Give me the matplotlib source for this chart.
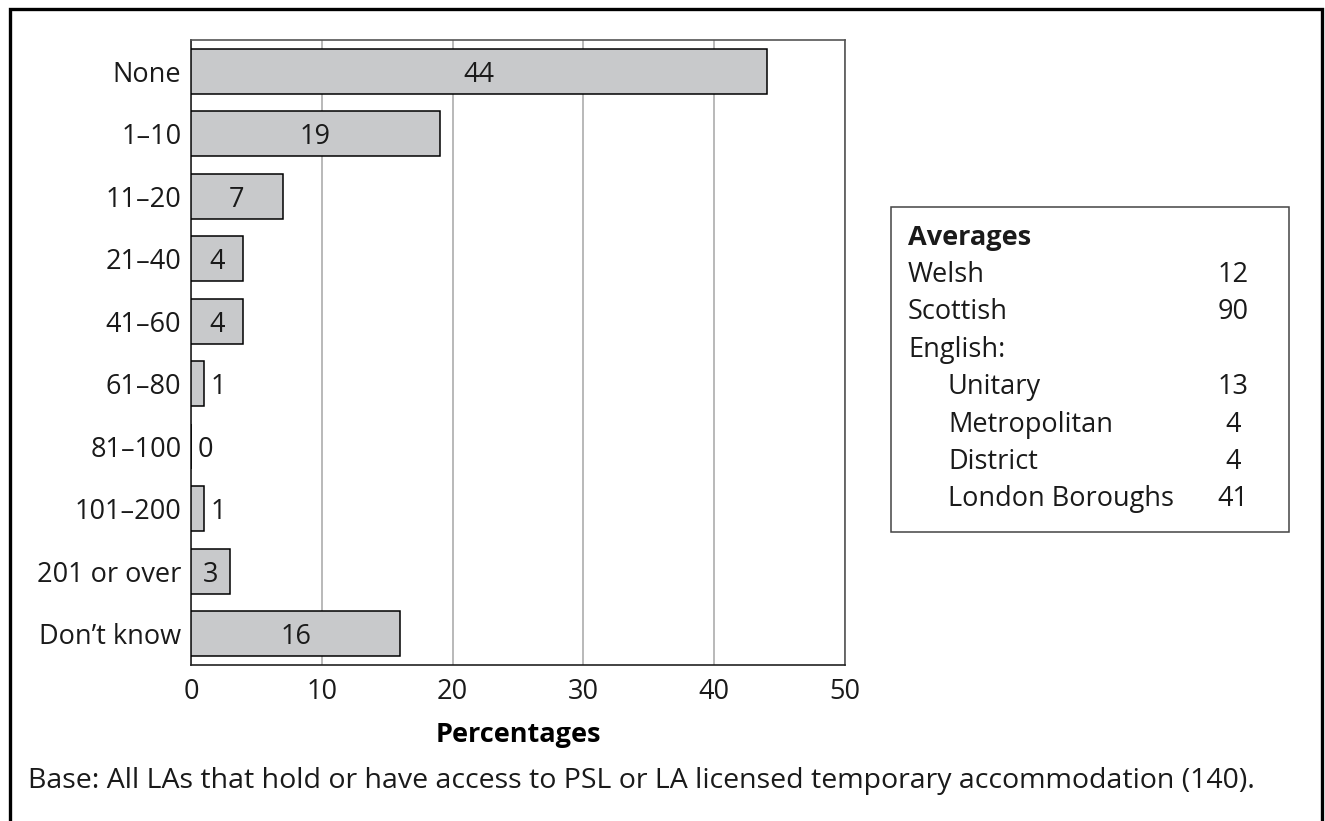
import matplotlib
matplotlib.use("Agg")
import matplotlib.pyplot as plt
from matplotlib.patches import Rectangle

plt.rcParams['font.family'] = ['Open Sans', 'DejaVu Sans']

categories = ["None", "1\u201310", "11\u201320", "21\u201340", "41\u201360", "61\u201380",
              "81\u2013100", "101\u2013200", "201 or over", "Don\u2019t know"]
values = [44, 19, 7, 4, 4, 1, 0, 1, 3, 16]
x_ticks = [0, 10, 20, 30, 40, 50]

avg_labels = ["Welsh", "Scottish", "English:", "Unitary", "Metropolitan", "District", "London Boroughs"]
avg_values = ["12", "90", "", "13", "4", "4", "41"]
avg_indent = [False, False, False, True, True, True, True]

FS = 19.5
W, H = 1325, 821
fig = plt.figure(figsize=(W / 100, H / 100), dpi=100)
fig.patch.set_facecolor("white")

ax = fig.add_axes([191 / W, 1 - 665 / H, (845 - 191) / W, (665 - 40) / H])
ypos = list(range(len(categories)))
ax.barh(ypos, values, height=0.72, color="#c8c9cb", edgecolor="black", linewidth=1.1, zorder=3)
ax.set_ylim(len(categories) - 0.5, -0.5)
ax.set_xlim(0, 50)
ax.set_yticks(ypos)
ax.set_yticklabels(categories, fontsize=FS)
ax.set_xticks(x_ticks)
ax.set_xticklabels([str(t) for t in x_ticks], fontsize=FS)
ax.tick_params(axis="both", length=0, colors="#1a1a1a")
ax.tick_params(axis="y", pad=7)
ax.tick_params(axis="x", pad=9)
ax.xaxis.grid(True, color="#a6a6a6", linewidth=1.1, zorder=0)
ax.set_axisbelow(True)
for side, sp in ax.spines.items():
    sp.set_color("#555555")
    sp.set_linewidth(1.2)
ax.spines["left"].set_color("#222222")
ax.spines["bottom"].set_color("#222222")
ax.set_xlabel("Percentages", fontsize=FS, fontweight="bold", labelpad=12)

for y, v in zip(ypos, values):
    if v >= 3:
        ax.text(v / 2, y, str(v), ha="center", va="center_baseline", fontsize=FS,
                color="#1a1a1a", zorder=4)
    else:
        ax.annotate(str(v), (v, y), xytext=(5, 0), textcoords="offset points",
                    ha="left", va="center_baseline", fontsize=FS, color="#1a1a1a", zorder=4)

# Averages box
fig.patches.append(Rectangle((891 / W, 1 - 532 / H), (1289 - 891) / W, (532 - 207) / H,
                             transform=fig.transFigure, fill=False, edgecolor="#444444",
                             linewidth=1.1))
fig.text(908 / W, 1 - 245 / H, "Averages", fontsize=FS, fontweight="bold",
         ha="left", va="baseline", color="#1a1a1a")
row_y = 282
for lab, val, ind in zip(avg_labels, avg_values, avg_indent):
    fig.text((948 if ind else 908) / W, 1 - row_y / H, lab, fontsize=FS,
             ha="left", va="baseline", color="#1a1a1a")
    if val:
        fig.text(1233 / W, 1 - row_y / H, val, fontsize=FS,
                 ha="center", va="baseline", color="#1a1a1a")
    row_y += 37.4

fig.text(28 / W, 1 - 788 / H,
         "Base: All LAs that hold or have access to PSL or LA licensed temporary accommodation (140).",
         fontsize=20.5, ha="left", va="baseline", color="#1a1a1a")

# Outer frame, open at the bottom edge of the figure
fig.patches.append(Rectangle((10.5 / W, -0.05), (1321.5 - 10.5) / W, 1.05 - 9.5 / H,
                             transform=fig.transFigure, fill=False, edgecolor="black",
                             linewidth=2.4, clip_on=False))

fig.savefig("out.png", dpi=100, facecolor="white")
